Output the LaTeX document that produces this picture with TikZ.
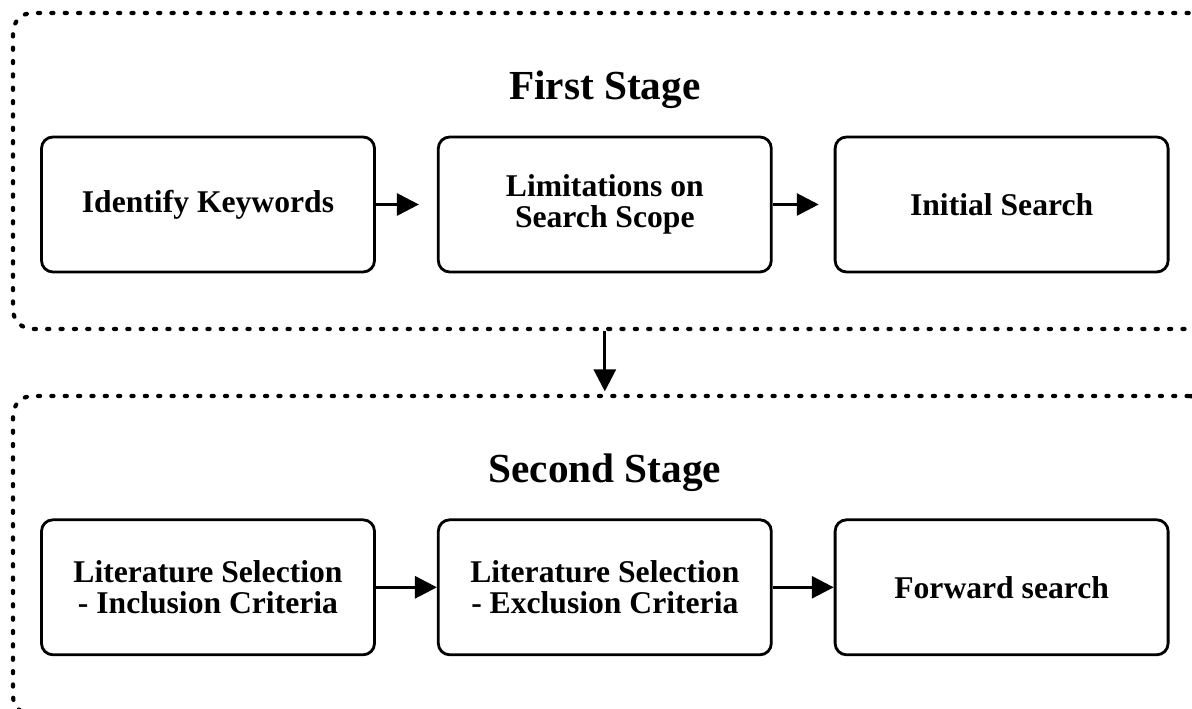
\documentclass[tikz,border=0pt]{standalone}
\usepackage{fontspec}
\setmainfont{Liberation Serif}
\usetikzlibrary{arrows.meta,positioning}
\tikzset{
  search box/.style={draw, rounded corners=6.5pt, line width=1.6pt, minimum width=6.66cm, minimum height=2.7cm, align=center, font=\fontsize{18}{17.5}\selectfont\bfseries},
  stage frame/.style={draw, rounded corners=11pt, line width=2.4pt, dash pattern=on 1.2pt off 6.4pt, line cap=round, minimum width=23.9cm},
  stage title/.style={font=\fontsize{23.5}{28}\selectfont\bfseries, anchor=base},
  flow edge/.style={-{Triangle[length=12.5pt,width=12.5pt]}, line width=1.7pt},
}
\begin{document}
\begin{tikzpicture}
  \useasboundingbox (0,0) rectangle (23.84,14.18);
  % dotted stage frames
  \node[stage frame, minimum height=6.32cm] (stage1) at (12.21,10.76) {};
  \node[stage frame, minimum height=6.38cm] (stage2) at (12.21,3.07) {};
  % first stage
  \node[search box] (ident) at (4.16,10.09) {Identify Keywords};
  \node[search box, right=1.22cm of ident] (limit) {Limitations on\\Search Scope};
  \node[search box, right=1.22cm of limit] (init) {Initial Search};
  \node[stage title] (title1) at ([yshift=0.72cm]limit.north) {First Stage};
  % second stage
  \node[search box, below=4.9cm of ident] (incl) {Literature Selection\\- Inclusion Criteria};
  \node[search box, right=1.22cm of incl] (excl) {Literature Selection\\- Exclusion Criteria};
  \node[search box, right=1.22cm of excl] (fwd) {Forward search};
  \node[stage title] (title2) at ([yshift=0.72cm]excl.north) {Second Stage};
  % arrows
  \draw[flow edge, shorten >=0.36cm] (ident) -- (limit);
  \draw[flow edge, shorten >=0.3cm] (limit) -- (init);
  \draw[flow edge] (incl) -- (excl);
  \draw[flow edge] (excl) -- (fwd);
  \draw[flow edge, shorten >=0.05cm] (limit |- stage1.south) -- (limit |- stage2.north);
\end{tikzpicture}
\end{document}
